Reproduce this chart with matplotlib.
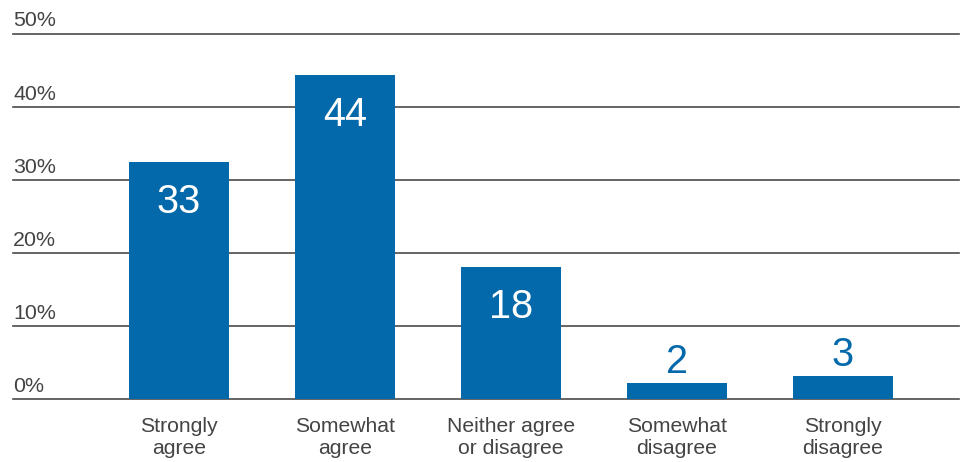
from matplotlib import pyplot as plt

# data
categories = ['Strongly\nagree', 'Somewhat\nagree', 'Neither agree\nor disagree',
              'Somewhat\ndisagree', 'Strongly\ndisagree']
bar_heights = [32.4, 44.3, 18.0, 2.1, 3.1]
value_labels = ['33', '44', '18', '2', '3']
y_ticks = [0, 10, 20, 30, 40, 50]
y_tick_labels = ['0%', '10%', '20%', '30%', '40%', '50%']

BLUE = '#0369AA'
TEXT = '#444444'
GRID = '#4a4a4a'

plt.rcParams['font.family'] = ['Liberation Sans', 'DejaVu Sans']

fig = plt.figure(figsize=(9.66, 4.62), dpi=100)
ax = fig.add_axes([13 / 966, 63.3 / 462, 945.7 / 966, 365.2 / 462])

positions = list(range(len(categories)))
ax.bar(positions, bar_heights, width=0.6, color=BLUE, zorder=2)

ax.set_xlim(-1, 4.697)
ax.set_ylim(0, 50)

# horizontal rules with the percent labels sitting on top of them
for t, lab in zip(y_ticks, y_tick_labels):
    ax.axhline(t, color=GRID, lw=1.2, zorder=1, clip_on=False)
    ax.annotate(lab, xy=(0, t), xycoords=('axes fraction', 'data'),
                xytext=(0, 7), textcoords='offset pixels',
                ha='left', va='baseline', fontsize=15.4, color=TEXT)

# value labels: inside the bar when tall enough, above it otherwise
for x, h, lab in zip(positions, bar_heights, value_labels):
    if h > 10:
        ax.annotate(lab, xy=(x, h), xytext=(0, -21), textcoords='offset pixels',
                    ha='center', va='top', fontsize=28.5, color='white', zorder=3)
    else:
        ax.annotate(lab, xy=(x, h), xytext=(0, 10), textcoords='offset pixels',
                    ha='center', va='baseline', fontsize=28.5, color=BLUE, zorder=3)

ax.set_xticks(positions)
ax.set_xticklabels(categories, fontsize=15.2, color=TEXT, linespacing=1.2)
ax.tick_params(axis='x', length=0, pad=13)
ax.set_yticks([])
for side in ['top', 'right', 'bottom', 'left']:
    ax.spines[side].set_visible(False)

plt.savefig('out.png', dpi=100)
